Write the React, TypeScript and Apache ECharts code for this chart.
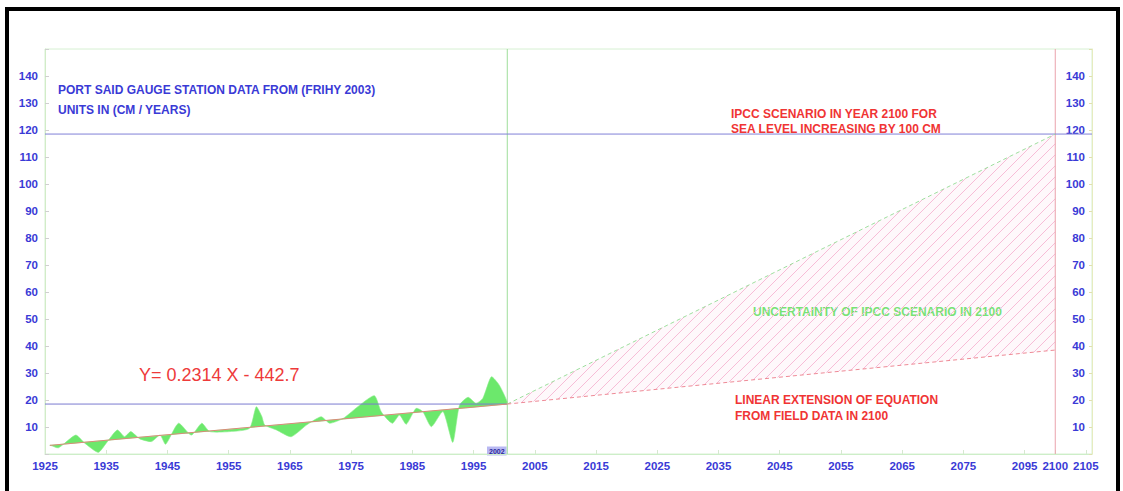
import React, { useEffect, useRef } from "react";
import * as echarts from "echarts";

// ---- data ----
// Port Said gauge record (axis-year position, sea level cm)
const seaYears = [1925.8, 1927.2, 1930, 1931.5, 1933.7, 1935, 1936.8, 1938, 1939, 1940.5, 1942.4, 1943.8, 1944.7, 1946.8, 1948.9, 1950.6, 1951.9, 1955.2, 1958.4, 1959.5, 1960.4, 1960.9, 1962.8, 1965.2, 1967.7, 1970.1, 1971.5, 1973.7, 1976.4, 1978.8, 1979.9, 1981, 1981.8, 1982.9, 1984, 1985.6, 1986.7, 1988.1, 1990, 1991.6, 1992.7, 1994.1, 1995.4, 1996.5, 1997.9, 1999.2, 2000.5];
const seaLevel = [3.3, 2.3, 7.0, 4.0, 0.6, 4.0, 8.9, 6.4, 8.3, 5.6, 4.6, 7.0, 3.6, 11.4, 7.0, 11.4, 8.3, 8.3, 9.5, 17.5, 14.0, 10.7, 8.9, 6.4, 10.7, 13.8, 11.4, 13.2, 18.1, 21.6, 15.7, 12.6, 11.4, 14.4, 11.0, 16.9, 15.7, 10.1, 15.7, 4.3, 18.1, 21.0, 18.8, 20.6, 28.6, 25.5, 19.4];

// regression line endpoints (Y = 0.2314 X - 442.7) as drawn
const trendX = [1925.8, 2000.5];
const trendY = [3.2, 18.5];

// tick values on the axis and the labels the reference prints at them
const xTickValues = [1925, 1935, 1945, 1955, 1965, 1975, 1985, 1995, 2005, 2015, 2025, 2035, 2045, 2055, 2065, 2075, 2085, 2090, 2095];
const xTickLabels = ["1925", "1935", "1945", "1955", "1965", "1975", "1985", "1995", "2005", "2015", "2025", "2035", "2045", "2055", "2065", "2075", "2095", "2100", "2105"];

const X_MIN = 1925;
const X_MAX = 2096;
const Y_MIN = 0;
const Y_MAX = 150;

// projection
const projStartX = 2000.5; // end of field data (2002)
const projEndX = xTickValues[xTickLabels.indexOf("2100")];
const baseLevel = 18.5;
const ipccLevel = 118.5; // +100 cm
const linearLevel2100 = 38.5;

const BLUE = "#3a3ad6";
const RED = "#f03434";
const GREEN = "#3fe03f";
const FONT = "'Liberation Sans', Arial, sans-serif";
const HATCH_STEP = 11;

type P = number[];

// hatch segments ("/" direction) clipped to a triangle, in pixel space
function hatchSegments(tri: P[], step: number): P[][] {
  const sums = tri.map((p) => p[0] + p[1]);
  const lo = Math.min(...sums);
  const hi = Math.max(...sums);
  const segs: P[][] = [];
  for (let c = Math.ceil(lo / step) * step; c <= hi; c += step) {
    const pts: P[] = [];
    for (let i = 0; i < 3; i++) {
      const a = tri[i];
      const b = tri[(i + 1) % 3];
      const fa = a[0] + a[1] - c;
      const fb = b[0] + b[1] - c;
      if (fa === fb) continue;
      if (fa * fb <= 0) {
        const t = fa / (fa - fb);
        pts.push([a[0] + t * (b[0] - a[0]), a[1] + t * (b[1] - a[1])]);
      }
    }
    if (pts.length >= 2) {
      pts.sort((m, n) => m[0] - n[0]);
      segs.push([pts[0], pts[pts.length - 1]]);
    }
  }
  return segs;
}

export default function App() {
  const ref = useRef<HTMLDivElement>(null);

  useEffect(() => {
    if (!ref.current) return;
    const chart = echarts.init(ref.current, null, { renderer: "svg" });

    const txt = (text: string, x: number, y: number, fill: string, size = 12, weight: any = "bold") => ({
      type: "text",
      x,
      y,
      silent: true,
      style: { text, fill, font: `${weight} ${size}px ${FONT}`, verticalAlign: "middle", align: "left" },
    });

    const yLabelFmt = (v: number) => (v === 0 || v === 150 ? "" : String(v));

    const option: any = {
      animation: false,
      backgroundColor: "#ffffff",
      grid: {
        left: 45,
        right: 31,
        top: 49,
        bottom: 37,
        show: true,
        borderColor: "#d6f0d2",
        borderWidth: 1,
      },
      xAxis: {
        type: "value",
        min: X_MIN,
        max: X_MAX,
        axisLine: { show: true, lineStyle: { color: "#cdeec8" } },
        axisTick: { show: true, inside: true, length: 4, customValues: xTickValues, lineStyle: { color: "#d6e8d0" } },
        splitLine: { show: false },
        axisLabel: {
          customValues: xTickValues,
          formatter: (v: number) => {
            const i = xTickValues.indexOf(v);
            return i >= 0 ? xTickLabels[i] : "";
          },
          color: BLUE,
          fontSize: 11.5,
          fontWeight: "bold",
          fontFamily: FONT,
          margin: 6,
        },
      },
      yAxis: [
        {
          type: "value",
          min: Y_MIN,
          max: Y_MAX,
          interval: 10,
          position: "left",
          axisLine: { show: true, lineStyle: { color: "#d2ecc8" } },
          axisTick: { show: true, inside: true, length: 4, lineStyle: { color: "#d0d0d0" } },
          splitLine: { show: false },
          axisLabel: { formatter: yLabelFmt, color: BLUE, fontSize: 11.5, fontWeight: "bold", fontFamily: FONT, margin: 7 },
        },
        {
          type: "value",
          min: Y_MIN,
          max: Y_MAX,
          interval: 10,
          position: "right",
          axisLine: { show: true, lineStyle: { color: "#e6ecc0" } },
          axisTick: { show: true, inside: true, length: 3, lineStyle: { color: "#e0e0b0" } },
          splitLine: { show: false },
          axisLabel: { inside: true, formatter: yLabelFmt, color: BLUE, fontSize: 11.5, fontWeight: "bold", fontFamily: FONT, margin: 7 },
        },
      ],
      series: [
        {
          name: "uncertainty",
          type: "custom",
          z: 1,
          silent: true,
          data: [[projStartX, baseLevel]],
          renderItem: (_p: any, api: any) => {
            const tri = [
              api.coord([projStartX, baseLevel]),
              api.coord([projEndX, ipccLevel]),
              api.coord([projEndX, linearLevel2100]),
            ];
            const segs = hatchSegments(tri, HATCH_STEP);
            return {
              type: "group",
              children: [
                { type: "polygon", shape: { points: tri }, style: { fill: "rgba(252,232,242,0.3)", stroke: "none" } },
                ...segs.map((s) => ({
                  type: "line",
                  shape: { x1: s[0][0], y1: s[0][1], x2: s[1][0], y2: s[1][1] },
                  style: { stroke: "#f7bdd7", lineWidth: 1 },
                })),
              ],
            };
          },
        },
        {
          name: "gauge",
          type: "custom",
          z: 2,
          silent: true,
          data: [[seaYears[0], seaLevel[0]]],
          renderItem: (_p: any, api: any) => {
            const pts = seaYears.map((x, i) => api.coord([x, seaLevel[i]]));
            pts.push(api.coord([trendX[1], trendY[1]]));
            pts.push(api.coord([trendX[0], trendY[0]]));
            return {
              type: "polygon",
              shape: { points: pts, smooth: 0.2 },
              style: { fill: "#6ce86c", stroke: "#86ec86", lineWidth: 0.6 },
            };
          },
        },
        {
          name: "trend",
          type: "line",
          z: 4,
          symbol: "none",
          silent: true,
          data: trendX.map((x, i) => [x, trendY[i]]),
          lineStyle: { color: "#d98a78", width: 1 },
        },
        {
          name: "base",
          type: "line",
          z: 3,
          symbol: "none",
          silent: true,
          data: [[X_MIN, baseLevel], [projStartX, baseLevel]],
          lineStyle: { color: "#7a7ad0", width: 1 },
        },
        {
          name: "field data end",
          type: "line",
          z: 3,
          symbol: "none",
          silent: true,
          data: [[projStartX, Y_MIN], [projStartX, Y_MAX]],
          lineStyle: { color: "#9ede9a", width: 1 },
        },
        {
          name: "year 2100",
          type: "line",
          z: 3,
          symbol: "none",
          silent: true,
          data: [[projEndX, Y_MIN], [projEndX, Y_MAX]],
          lineStyle: { color: "#eaa2ac", width: 1 },
        },
        {
          name: "ipcc level",
          type: "line",
          z: 3,
          symbol: "none",
          silent: true,
          data: [[X_MIN, ipccLevel], [X_MAX, ipccLevel]],
          lineStyle: { color: "#8080d8", width: 1 },
        },
        {
          name: "ipcc upper",
          type: "line",
          z: 3,
          symbol: "none",
          silent: true,
          data: [[projStartX, baseLevel], [projEndX, ipccLevel]],
          lineStyle: { color: "#9edf9e", width: 1, type: [4, 3] },
        },
        {
          name: "linear extension",
          type: "line",
          z: 3,
          symbol: "none",
          silent: true,
          data: [[projStartX, baseLevel], [projEndX, linearLevel2100]],
          lineStyle: { color: "#ee8a96", width: 1, type: [4, 3] },
        },
      ],
      graphic: [
        {
          type: "rect",
          silent: true,
          shape: { x: 7, y: 9, width: 1111, height: 600 },
          style: { fill: "none", stroke: "#000000", lineWidth: 4 },
          z: 100,
        },
        txt("PORT SAID GAUGE STATION DATA FROM (FRIHY 2003)", 58, 90, BLUE),
        txt("UNITS IN (CM / YEARS)", 58, 110, BLUE),
        txt("IPCC SCENARIO IN YEAR 2100 FOR", 731, 114, RED),
        txt("SEA LEVEL INCREASING BY 100 CM", 731, 129, RED),
        txt("UNCERTAINTY OF IPCC SCENARIO IN 2100", 753, 312, GREEN),
        txt("LINEAR EXTENSION OF EQUATION", 735, 400, RED),
        txt("FROM FIELD DATA IN 2100", 735, 416, RED),
        txt("Y= 0.2314 X - 442.7", 139, 375, "#ee3a3a", 18, "normal"),
        {
          type: "text",
          x: 487,
          y: 451,
          silent: true,
          style: {
            text: "2002",
            fill: "#2a2a9a",
            font: `bold 7px ${FONT}`,
            verticalAlign: "middle",
            align: "left",
            backgroundColor: "#b8b8f2",
            padding: [1, 2],
          },
        },
      ],
    };

    chart.setOption(option);
    return () => chart.dispose();
  }, []);

  return (
    <div
      ref={ref}
      style={{ position: "fixed", left: 0, top: 0, width: 1123, height: 491, background: "#fff" }}
    />
  );
}
